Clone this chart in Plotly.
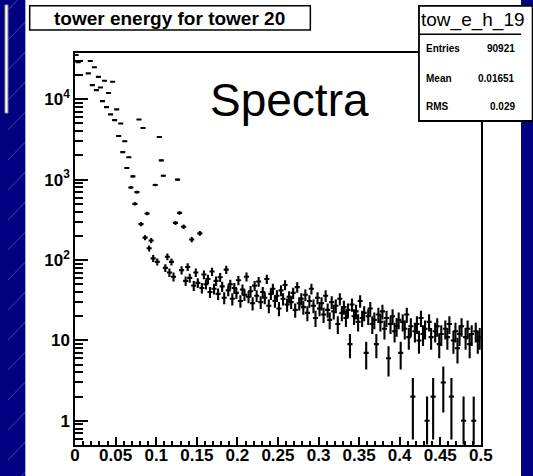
import numpy as np
import plotly.graph_objects as go

# ---------------- data ----------------
bin_width = 0.0025
counts = [
    35600, 29000, None, None, None, None, 21000, 30000, 15000, 25000,
    13000, 19000, 14000, 9500, 17000, 8000, 12000, 6500, 16500, 5500,
    7500, 3500, 5000, 2200, 3000, 1400, 1900, 800, 1100, 500,
    700, 5600, 280, 4400, 190, 380, 140, 175, 105, 860,
    95, 3400, 1740, 1120, 80, 110, 70, 95, 62, 290,
    1000, 386, 75, 260, 55, 82, 60, 180, 48, 70,
    52, 215, 45, 66, 50, 58, 40, 72, 44, 55,
    38, 61, 47, 34, 76, 42, 50, 33, 45, 39,
    56, 31, 43, 37, 62, 35, 41, 29, 48, 36,
    54, 30, 40, 34, 58, 27, 38, 44, 31, 36,
    25, 42, 33, 49, 28, 35, 30, 39, 24, 46,
    29, 33, 26, 37, 22, 31, 44, 27, 19, 34,
    25, 29, 21, 36, 24, 18, 30, 23, 27, 16,
    33, 22, 26, 19, 24, 9, 28, 20, 23, 17,
    31, 19, 22, 7, 20, 25, 16, 18, 9, 21,
    17, 23, 14, 19, 6, 16, 20, 13, 15, 18,
    7, 17, 14, 21, 11, 15, 2, 13, 16, 10,
    19, 12, 14, 1, 17, 11, 2, 13, 15, 9,
    12, 3, 14, 11, 16, 2, 10, 13, 8, 12,
    15, 1, 11, 14, 9, 12, 1, 13, 10, 11,
]

x_tick_vals = [0, 0.05, 0.1, 0.15, 0.2, 0.25, 0.3, 0.35, 0.4, 0.45, 0.5]
x_tick_text = ["0", "0.05", "0.1", "0.15", "0.2", "0.25", "0.3", "0.35", "0.4", "0.45", "0.5"]
y_tick_vals = [1, 10, 100, 1000, 10000]
y_tick_text = ["1", "10", "10<sup>2</sup>", "10<sup>3</sup>", "10<sup>4</sup>"]

title_text = "tower energy for tower 20"
hist_name = "tow_e_h_19"
stats_labels = ["Entries", "Mean", "RMS"]
stats_values = ["90921", "0.01651", "0.029"]
label_text = "Spectra"

# ---------------- build ----------------
W, H = 533, 476
def px(x):
    return x / W
def py(y):
    return 1 - y / H

FX0, FX1, FY0, FY1 = 72.4, 491.5, 53.4, 444.6   # frame in pixels
X_RANGE = [0, 0.5]
Y_RANGE = [-0.296, 4.571]

centers = (np.arange(len(counts)) + 0.5) * bin_width
xs, ys, eu, ed = [], [], [], []
for c, v in zip(centers, counts):
    if v is None or v <= 0:
        continue
    e = float(np.sqrt(v))
    xs.append(float(c))
    ys.append(v)
    eu.append(e)
    ed.append(min(e, v * 0.999))

fig = go.Figure()
fig.add_trace(go.Scatter(
    x=xs, y=ys, mode="markers",
    marker=dict(size=1, color="black"),
    error_y=dict(type="data", symmetric=False, array=eu, arrayminus=ed,
                 color="black", thickness=2.1, width=0),
    error_x=dict(type="data", array=[bin_width * 1.25] * len(xs),
                 color="black", thickness=2.1, width=0),
    hoverinfo="skip", showlegend=False,
))

font_family = "Liberation Sans, Arial, Helvetica, sans-serif"

y_minor = []
for dec in range(-1, 5):
    for m in range(2, 10):
        v = m * 10 ** dec
        if 10 ** Y_RANGE[0] <= v <= 10 ** Y_RANGE[1]:
            y_minor.append(v)

fig.update_layout(
    width=W, height=H,
    margin=dict(l=0, r=0, t=0, b=0),
    paper_bgcolor="#000080",
    plot_bgcolor="white",
    showlegend=False,
    xaxis=dict(
        domain=[px(FX0), px(FX1)],
        range=X_RANGE,
        showgrid=False, zeroline=False,
        showline=True, mirror=True, linecolor="black", linewidth=1.6,
        ticks="inside", ticklen=8, tickwidth=1.6, tickcolor="#000000",
        tickmode="array", tickvals=x_tick_vals, ticktext=x_tick_text,
        ticklabelstandoff=-6,
        tickfont=dict(family=font_family, size=17, color="black", weight="bold"),
        minor=dict(ticks="inside", ticklen=4, tickwidth=1.6, tickcolor="#000000",
                   tickmode="linear", tick0=0, dtick=0.01, showgrid=False),
        layer="above traces",
    ),
    yaxis=dict(
        domain=[py(FY1), py(FY0)],
        type="log",
        range=Y_RANGE,
        showgrid=False, zeroline=False,
        showline=True, mirror=True, linecolor="black", linewidth=1.6,
        ticks="inside", ticklen=13, tickwidth=1.6, tickcolor="#000000",
        tickmode="array", tickvals=y_tick_vals, ticktext=y_tick_text,
        tickfont=dict(family=font_family, size=17, color="black", weight="bold"),
        minor=dict(ticks="inside", ticklen=8, tickwidth=1.6, tickcolor="#000000",
                   tickmode="array", tickvals=y_minor, showgrid=False),
        layer="above traces",
    ),
)

shapes = []
shapes.append(dict(type="rect", xref="paper", yref="paper",
                   x0=px(21), x1=1.0, y0=0, y1=1.0,
                   fillcolor="white", line=dict(width=0), layer="below"))
shapes.append(dict(type="rect", xref="paper", yref="paper",
                   x0=0, x1=px(3), y0=py(113), y1=py(5),
                   fillcolor="white", line=dict(color="#9a9a9a", width=1), layer="below"))
for y0 in range(10, 520, 30):
    shapes.append(dict(type="line", xref="paper", yref="paper",
                       x0=px(3), y0=py(y0), x1=px(21), y1=py(y0 - 18),
                       line=dict(color="rgba(110,130,220,0.55)", width=1), layer="below"))
shapes.append(dict(type="rect", xref="paper", yref="paper",
                   x0=px(25.5), x1=px(315.4), y0=py(30), y1=py(5.8),
                   fillcolor="white", line=dict(color="black", width=1.5), layer="above"))
shapes.append(dict(type="rect", xref="paper", yref="paper",
                   x0=px(427.6), x1=px(545), y0=py(121), y1=py(5.8),
                   fillcolor="white", line=dict(color="black", width=1.8), layer="above"))
shapes.append(dict(type="line", xref="paper", yref="paper",
                   x0=px(427.6), x1=1.0, y0=py(34.3), y1=py(34.3),
                   line=dict(color="black", width=1.5), layer="above"))
fig.update_layout(shapes=shapes)

ann = []
ann.append(dict(xref="paper", yref="paper", x=px(170), y=py(18.5), text=title_text,
                showarrow=False, xanchor="center", yanchor="middle",
                font=dict(family=font_family, size=19, color="black", weight="bold")))
ann.append(dict(xref="paper", yref="paper", x=px(427.5), y=py(20), text=hist_name,
                showarrow=False, xanchor="left", yanchor="middle",
                font=dict(family=font_family, size=19, color="black")))
row_y = [49, 78.5, 107]
for lab, val, yy in zip(stats_labels, stats_values, row_y):
    ann.append(dict(xref="paper", yref="paper", x=px(432.7), y=py(yy), text=lab,
                    showarrow=False, xanchor="left", yanchor="middle",
                    font=dict(family=font_family, size=10, color="black", weight="bold")))
    ann.append(dict(xref="paper", yref="paper", x=px(528.5), y=py(yy), text=val,
                    showarrow=False, xanchor="right", yanchor="middle",
                    font=dict(family=font_family, size=10, color="black", weight="bold")))
ann.append(dict(xref="paper", yref="paper", x=px(294), y=py(100), text=label_text,
                showarrow=False, xanchor="center", yanchor="middle",
                font=dict(family=font_family, size=46, color="black")))
fig.update_layout(annotations=ann)

fig.write_html("out.html")
